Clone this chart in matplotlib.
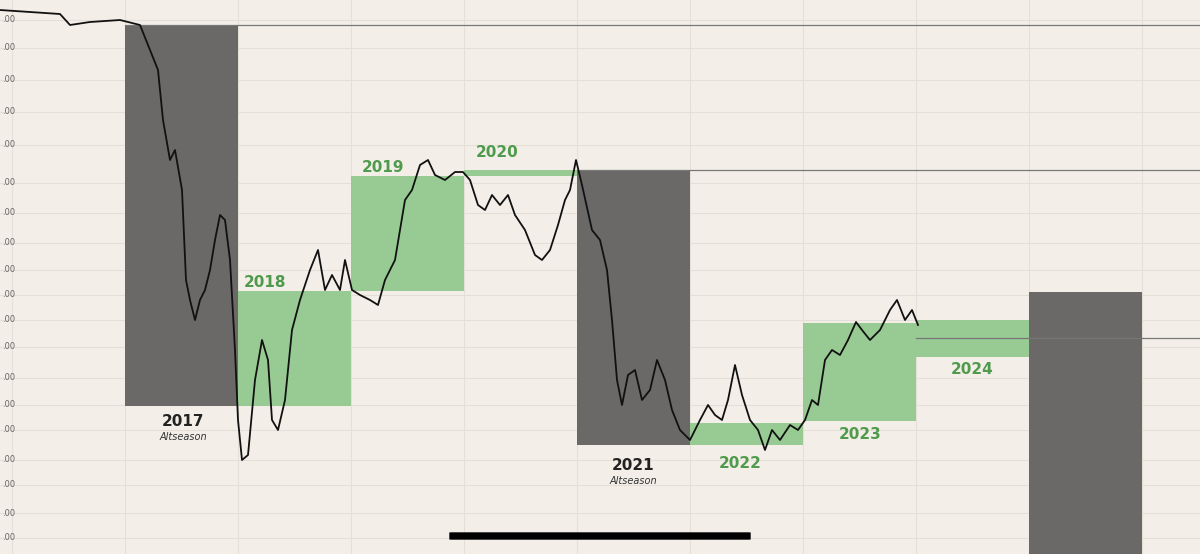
import matplotlib
matplotlib.use("Agg")
import matplotlib.pyplot as plt
from matplotlib.patches import Rectangle, FancyBboxPatch
import numpy as np

# ---- data ----
# time axis in years, value axis in dominance-like units
T0, YW = 2015.894, 113.0  # year origin & pixels per year (reading aid)
def yr(px): return T0 + px / YW
def val(py): return 90 - py * 0.1

trace_px = [0,30,60,70,90,120,140,150,158,163,170,175,182,186,190,195,200,205,210,215,220,225,230,235,238,242,248,255,262,268,272,278,285,292,300,310,318,325,332,340,345,352,360,370,378,385,395,405,412,420,428,435,445,455,463,470,478,485,492,500,508,515,525,535,542,550,558,565,570,576,582,592,600,607,612,617,622,628,635,642,650,657,665,672,680,690,700,708,715,722,728,735,742,750,758,765,772,780,790,798,805,812,818,825,832,840,848,856,862,870,880,890,897,905,912,918]
trace_py = [10,12,14,25,22,20,25,50,70,120,160,150,190,280,300,320,300,290,270,240,215,220,260,350,420,460,455,380,340,360,420,430,400,330,300,270,250,290,275,290,260,290,295,300,305,280,260,200,190,165,160,175,180,172,172,180,205,210,195,205,195,215,230,255,260,250,225,200,190,160,185,230,240,270,320,380,405,375,370,400,390,360,380,410,430,440,420,405,415,420,400,365,395,420,430,450,430,440,425,430,420,400,405,360,350,355,340,322,330,340,330,310,300,320,310,325]

years = [2017, 2018, 2019, 2020, 2021, 2022, 2023, 2024, 2025]
box_top = [val(25), val(291), val(176), val(170), val(170), val(423), val(323), val(320), val(292)]
box_bot = [val(406), val(406), val(291), val(176), val(445), val(445), val(421), val(357), val(560)]
box_kind = ['dark','green','green','green','dark','green','green','green','dark']
labels = ['2017','2018','2019','2020','2021','2022','2023','2024', None]
label_pos = [(183,422),(265,283),(383,168),(497,153),(633,466),(740,464),(860,435),(972,370)]
sub = {'2017':'Altseason','2021':'Altseason'}

hlines = [(val(25), 2017), (val(170), 2021), (val(338), 2024)]
ytick_py = [20,48,80,112,145,183,213,243,270,295,320,347,378,405,430,460,485,513,538]

BG = '#f3efe8'; GREEN = '#8ec88a'; DARK = '#6b6967'; GTXT = '#4f9a4c'

fig = plt.figure(figsize=(12, 5.54), dpi=100)
fig.patch.set_facecolor(BG)
ax = fig.add_axes([0, 0, 1, 1])
ax.set_facecolor(BG)
ax.set_xlim(yr(0), yr(1200)); ax.set_ylim(val(554), val(0))
ax.axis('off')

for p in ytick_py:
    ax.axhline(val(p), color='#e4dfd7', lw=0.8, zorder=0)
    ax.text(yr(2), val(p), '.00', fontsize=6, color='#666', va='center')
for y in range(2016, 2027):
    ax.axvline(y, color='#e4dfd7', lw=0.8, zorder=0)

for y, t, b, k in zip(years, box_top, box_bot, box_kind):
    ax.add_patch(Rectangle((y, b), 1, t - b, color=DARK if k == 'dark' else GREEN,
                           alpha=1.0 if k == 'dark' else 0.9, lw=0, zorder=1))
for v, y0 in hlines:
    ax.plot([y0, yr(1200)], [v, v], color='#777', lw=0.9, zorder=2)

ax.plot([yr(p) for p in trace_px], [val(p) for p in trace_py], color='#111', lw=1.3, zorder=3)

for lab, (px, py) in zip(labels, label_pos):
    dark = lab in sub
    ax.text(yr(px), val(py), lab, fontsize=11, fontweight='bold', ha='center', va='center',
            color='#222' if dark else GTXT, zorder=4)
    if dark:
        ax.text(yr(px), val(py + 15), sub[lab], fontsize=7, style='italic', ha='center',
                va='center', color='#333', zorder=4)

ax.add_patch(FancyBboxPatch((yr(450), val(539)), yr(750) - yr(450), val(533) - val(539),
             boxstyle='round,pad=0,rounding_size=0.02', color='black', zorder=5, mutation_aspect=0.5))

fig.savefig('out.png', dpi=100, facecolor=BG)
